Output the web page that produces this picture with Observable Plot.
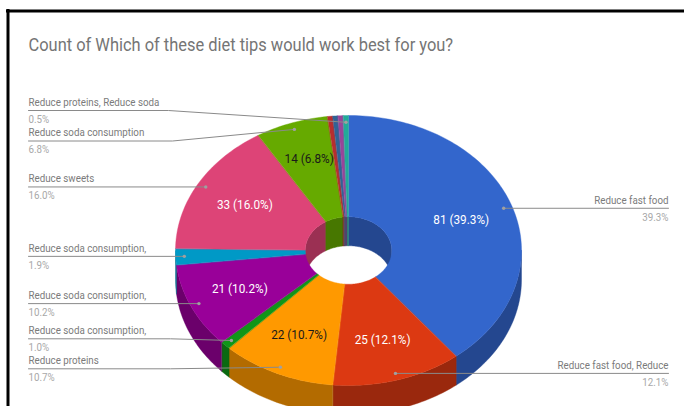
<!DOCTYPE html>
<html>
<head>
<meta charset="utf-8">
<script src="https://cdn.jsdelivr.net/npm/d3@7"></script>
<script src="https://cdn.jsdelivr.net/npm/@observablehq/plot@0.6"></script>
<style>
  html, body { margin: 0; padding: 0; background: #fff; overflow: hidden; }
  svg { display: block; }
</style>
</head>
<body>
<div id="chart"></div>
<script>
// Survey answers, in clockwise order from twelve o'clock.
const counts = [81, 25, 22, 2, 21, 4, 33, 14, 1, 1, 1, 1];
const sliceColors = ["#3366cc", "#dc3912", "#ff9900", "#109618", "#990099", "#0099c6",
                     "#dd4477", "#66aa00", "#b82e2e", "#316395", "#994499", "#22aa99"];
const sliceNames = ["Reduce fast food", "Reduce fast food, Reduce", "Reduce proteins",
                    "Reduce soda consumption,", "Reduce soda consumption,", "Reduce soda consumption,",
                    "Reduce sweets", "Reduce soda consumption", null, null, null,
                    "Reduce proteins, Reduce soda"];
const chartTitle = "Count of Which of these diet tips would work best for you?";

// Slices large enough to carry a value inside them, and their ink.
const insideInk = { 0: "#ffffff", 1: "#ffffff", 2: "#1a1a1a", 4: "#ffffff", 6: "#ffffff", 7: "#1a1a1a" };
// The narrow green slice's value sits a little higher than the others' ring.
const insideLift = { 7: 4 };

// Pie geometry on the page.
const cx = 348, cy = 250, rx = 173, ry = 135, holeRatio = 0.25, depth = 29;
// Leaders that bend: where the underline runs and where it ends.
const bentLeaders = {
  11: { y: 110, knee: 168 },
  7: { y: 140.5, knee: 172 },
  3: { y: 338.3, knee: 170 },
  2: { y: 368.3, knee: 170 }
};
const leftEdge = 28, rightEdge = 668;
// All lettering on this chart is set slightly narrow.
const textSqueeze = 0.905;
const titleSqueeze = 0.913;

const total = d3.sum(counts);
const pct = (n) => (n / total * 100).toFixed(1) + "%";
const TAU = Math.PI * 2;

// Cumulative angles, measured clockwise from the top.
let running = 0;
const slices = counts.map((n, i) => {
  const a0 = running / total * TAU;
  running += n;
  return { i, n, a0, a1: running / total * TAU, mid: (a0 + running / total * TAU) / 2,
           color: sliceColors[i], name: sliceNames[i] };
});

const onRim = (a, r) => [cx + rx * r * Math.sin(a), cy - ry * r * Math.cos(a)];
const arcAngles = (a0, a1) => {
  const steps = Math.max(2, Math.ceil((a1 - a0) / 0.02));
  return d3.range(steps + 1).map((k) => a0 + (a1 - a0) * k / steps);
};
const shade = (c) => {
  const { r, g, b } = d3.rgb(c);
  return d3.rgb(r * 0.7, g * 0.7, b * 0.7).formatHex();
};
// Overlap of a slice's angular span with [lo, hi].
const overlap = (s, lo, hi) => {
  const a = Math.max(s.a0, lo), b = Math.min(s.a1, hi);
  return b > a ? [a, b] : null;
};

// Closed ring of points for a band hanging below an arc at radius r.
const bandPoints = (key, color, a0, a1, r) => {
  const top = arcAngles(a0, a1).map((a) => onRim(a, r));
  const bottom = top.map(([x, y]) => [x, y + depth]).reverse();
  return [...top, ...bottom].map(([x, y]) => ({ x, y, key, color }));
};

// Outer wall: only the front half of the rim faces the viewer.
const outerWall = slices.flatMap((s) => {
  const span = overlap(s, Math.PI / 2, Math.PI * 1.5);
  return span ? bandPoints("o" + s.i, shade(s.color), span[0], span[1], 1) : [];
});

// Hole wall: only the back half of the hole faces the viewer.
const holeWall = slices.flatMap((s) => {
  const spans = [overlap(s, 0, Math.PI / 2), overlap(s, Math.PI * 1.5, TAU)].filter(Boolean);
  return spans.flatMap((sp, j) => bandPoints("h" + s.i + j, shade(s.color), sp[0], sp[1], holeRatio));
});

// Top face of each slice; drawn last, it trims the walls to the hole opening.
const topFace = slices.flatMap((s) => {
  const outer = arcAngles(s.a0, s.a1).map((a) => onRim(a, 1));
  const inner = arcAngles(s.a0, s.a1).reverse().map((a) => onRim(a, holeRatio));
  return [...outer, ...inner].map(([x, y]) => ({ x, y, key: "t" + s.i, color: s.color }));
});

// Values printed on the slices.
const insideLabels = slices.filter((s) => insideInk[s.i]).map((s) => {
  const [x, y] = onRim(s.mid, 0.69);
  return { x, y: y - (insideLift[s.i] || 0), text: `${s.n} (${pct(s.n)})`, ink: insideInk[s.i] };
});

// Leader lines and their labels.
const called = slices.filter((s) => s.name).map((s) => {
  const [dx, dy] = onRim(s.mid, 0.95);
  const bent = bentLeaders[s.i];
  const right = dx > cx;
  const y = bent ? bent.y : dy;
  const edge = right ? rightEdge : leftEdge;
  const path = bent ? [[edge, y], [bent.knee, y], [dx, dy]] : [[edge, y], [dx, dy]];
  return { ...s, dx, dy, y, edge, right, path };
});
const leaderPoints = called.flatMap((c) => c.path.map(([x, y]) => ({ x, y, key: c.i })));
const textFont = "Roboto";

const faceMark = (data) => Plot.line(data, {
  x: "x", y: "y", z: "key", fill: "color", stroke: "color", strokeWidth: 0.4, curve: "linear-closed"
});
const calloutText = (side, field, offset, ink) => Plot.text(called.filter((c) => c.right === side), {
  x: "edge", y: (c) => c.y + offset, text: field,
  textAnchor: side ? "end" : "start", lineAnchor: "middle",
  fontFamily: textFont, fontSize: 10.8, fill: ink
});
const nameOf = (c) => c.name;
const shareOf = (c) => pct(c.n);

const chart = Plot.plot({
  width: 684,
  height: 406,
  margin: 0,
  style: { background: "#fff", fontFamily: textFont },
  x: { domain: [0, 684], range: [0, 684], axis: null },
  y: { domain: [0, 406], range: [0, 406], axis: null },
  color: { type: "identity" },
  marks: [
    Plot.ruleY([10.5], { x1: 6, x2: 684, stroke: "#000", strokeWidth: 3 }),
    Plot.ruleX([7.5], { y1: 9, y2: 406, stroke: "#000", strokeWidth: 3 }),
    Plot.text([chartTitle], {
      x: leftEdge, y: 44.5, text: (d) => d, textAnchor: "start", lineAnchor: "middle",
      fontFamily: textFont, fontSize: 18, fill: "#757575"
    }),
    faceMark(outerWall),
    faceMark(holeWall),
    faceMark(topFace),
    Plot.text(insideLabels, {
      x: "x", y: "y", text: "text", fill: "ink", textAnchor: "middle", lineAnchor: "middle",
      fontFamily: textFont, fontSize: 13
    }),
    Plot.line(leaderPoints, { x: "x", y: "y", z: "key", stroke: "#8a8a8a", strokeWidth: 1, curve: "linear" }),
    Plot.dot(called, { x: "dx", y: "dy", r: 1.7, fill: "#a0a0a0", stroke: "none" }),
    calloutText(false, nameOf, -8, "#7b7b7b"),
    calloutText(false, shareOf, 9, "#a8a8a8"),
    calloutText(true, nameOf, -8, "#7b7b7b"),
    calloutText(true, shareOf, 9, "#a8a8a8")
  ]
});
document.getElementById("chart").appendChild(chart);

// Narrow every label once it is in the page and can be measured.
chart.querySelectorAll("text").forEach((t) => {
  const squeeze = t.textContent === chartTitle ? titleSqueeze : textSqueeze;
  t.setAttribute("textLength", (t.getComputedTextLength() * squeeze).toFixed(2));
  t.setAttribute("lengthAdjust", "spacingAndGlyphs");
});
</script>
</body>
</html>
